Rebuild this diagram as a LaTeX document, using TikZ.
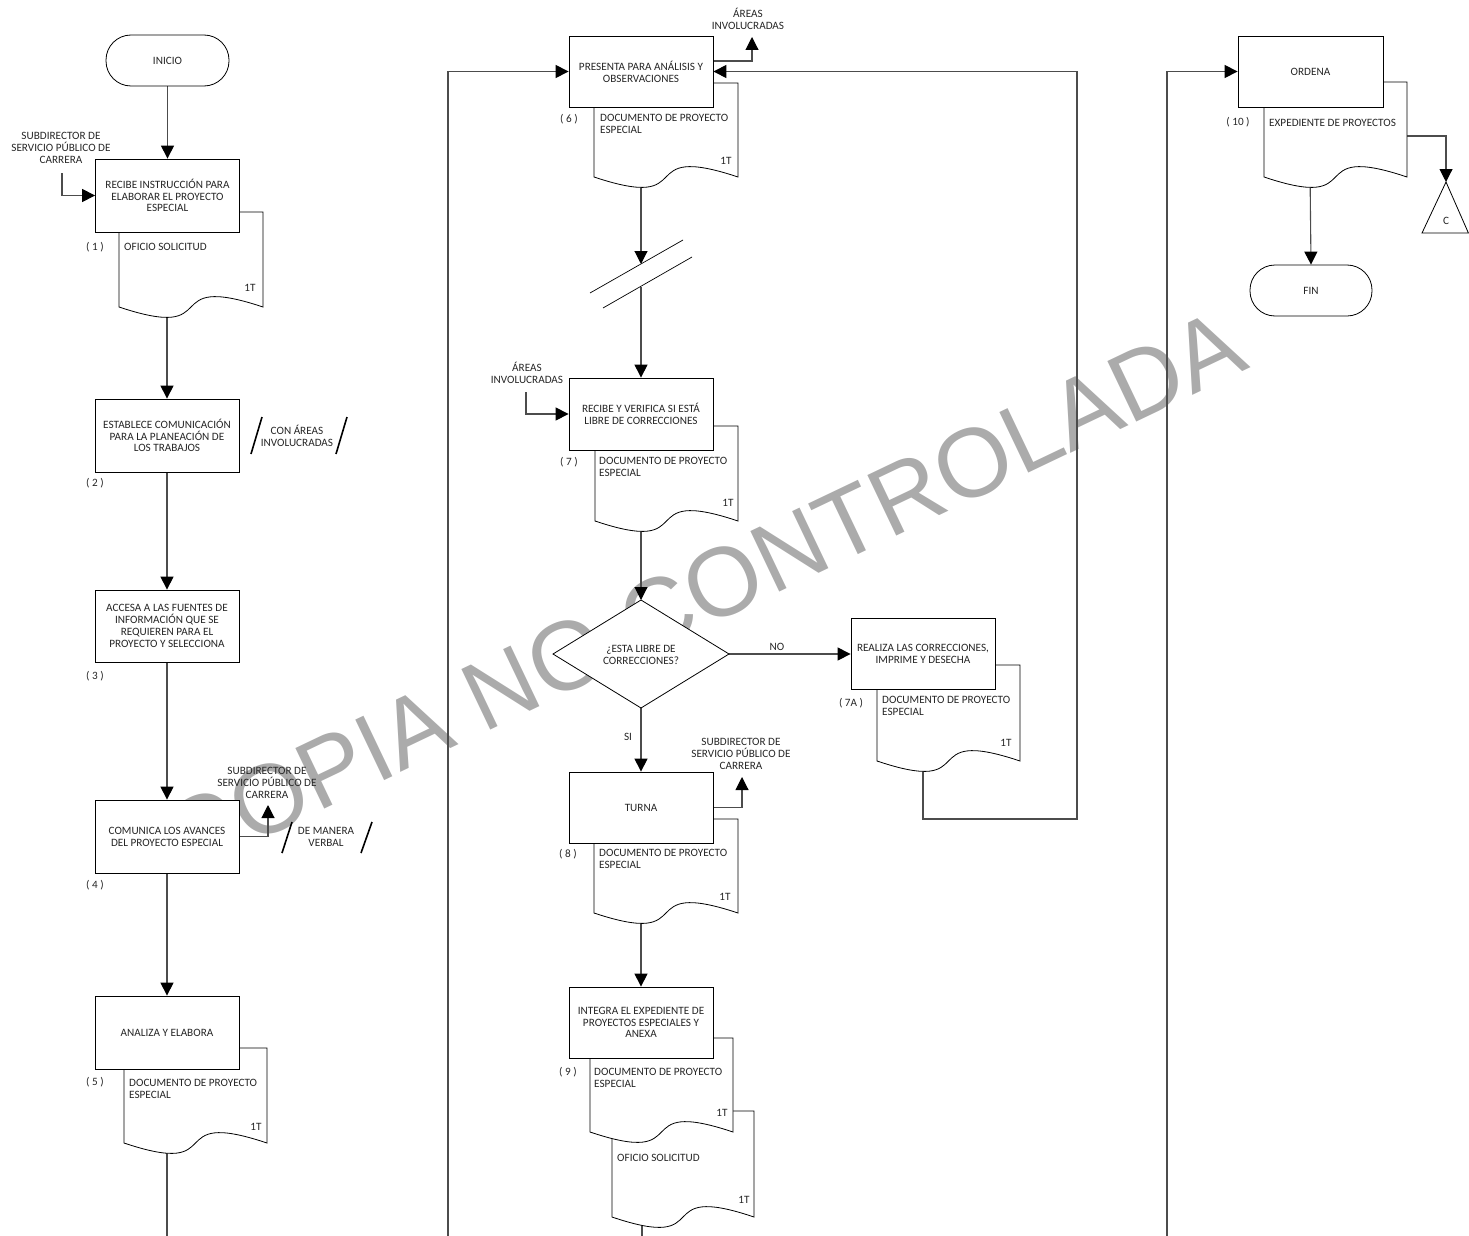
\documentclass[tikz,border=0pt]{standalone}
\usepackage{fontspec}
\setmainfont{Carlito}
\newfontfamily\wmfont{Liberation Sans}
\usetikzlibrary{arrows.meta}
\pgfdeclarelayer{wmlayer}
\pgfdeclarelayer{bglayer}
\pgfsetlayers{wmlayer,bglayer,main}
\newcommand{\docshape}[4]{%
  \draw[docst] (#1,#2) -- (#3,#2) -- (#3,#4)
    .. controls ({#1+0.25*(#3-#1)},{#4-36}) and ({#1+0.75*(#3-#1)},{#4+36}) .. (#1,#4) -- cycle;}
\begin{document}
\begin{tikzpicture}[x=1pt,y=-1pt,
  every node/.style={font=\fontsize{11.2}{11.8}\selectfont, text=black!85},
  box/.style={draw=black, fill=white, line width=0.8pt, minimum width=144pt, minimum height=72pt, inner sep=0pt, align=center},
  term/.style={draw=black, fill=white, line width=0.8pt, rounded corners=25pt, minimum width=123pt, minimum height=51pt, inner sep=0pt},
  docst/.style={draw=black, fill=white, line width=0.8pt},
  conn/.style={draw=black!70, line width=1.1pt},
  arr/.style={conn, -{Triangle[length=13pt,width=13pt,color=black]}},
  slashln/.style={draw=black, line width=1.6pt},
  brk/.style={draw=black, line width=0.7pt},
  lbl/.style={align=center, inner sep=0pt},
  num/.style={inner sep=0pt},
  dtxt/.style={anchor=west, align=left, inner sep=0pt}
]
\useasboundingbox (0,0) rectangle (1469,1236);

% ---------- documents ----------
\docshape{119}{212}{263}{307}
\docshape{124}{1048}{267}{1143}
\docshape{594}{83}{738}{177}
\docshape{595}{426}{738}{521}
\docshape{877}{665}{1020}{761}
\docshape{594}{819}{738}{913}
\docshape{612}{1111}{754}{1217}
\docshape{590}{1038}{733}{1132}
\docshape{1264}{82}{1407}{177}

% ---------- terminals ----------
\node[term] (ini) at (167.5,60.5) {INICIO};
\node[term, minimum width=122pt] (fin) at (1311,290.5) {FIN};

% ---------- process boxes ----------
\node[box, minimum height=73pt] (b1) at (167.5,195.5) {RECIBE INSTRUCCIÓN PARA\\ELABORAR EL PROYECTO\\ESPECIAL};
\node[box, minimum height=73pt] (b2) at (167,435.5) {ESTABLECE COMUNICACIÓN\\PARA LA PLANEACIÓN DE\\LOS TRABAJOS};
\node[box] (b3) at (167,626) {ACCESA A LAS FUENTES DE\\INFORMACIÓN QUE SE\\REQUIEREN PARA EL\\PROYECTO Y SELECCIONA};
\node[box, minimum height=73pt] (b4) at (167,836.5) {COMUNICA LOS AVANCES\\DEL PROYECTO ESPECIAL};
\node[box, minimum height=73pt] (b5) at (167,1032.5) {ANALIZA Y ELABORA};
\node[box, minimum height=71pt] (b6) at (641,71.5) {PRESENTA PARA ANÁLISIS Y\\OBSERVACIONES};
\node[box] (b7) at (641,414) {RECIBE Y VERIFICA SI ESTÁ\\LIBRE DE CORRECCIONES};
\node[box, minimum height=71pt] (b7a) at (923,654) {REALIZA LAS CORRECCIONES,\\IMPRIME Y DESECHA};
\node[box, minimum height=71pt] (b8) at (641,807.5) {TURNA};
\node[box, minimum height=71pt] (b9) at (641,1022.5) {INTEGRA EL EXPEDIENTE DE\\PROYECTOS ESPECIALES Y\\ANEXA};
\node[box, minimum width=145pt, minimum height=71pt] (b10) at (1310.5,71.5) {ORDENA};

% ---------- decision ----------
\coordinate (dt) at (641,600);
\coordinate (dr) at (729,654);
\coordinate (db) at (641,708);
\coordinate (dl) at (553,654);
\draw[docst] (dt) -- (dr) -- (db) -- (dl) -- cycle;
\node[lbl] (dq) at (641,655) {¿ESTA LIBRE DE\\CORRECCIONES?};

% ---------- off-page connector ----------
\coordinate (ct) at (1446,182);
\coordinate (cl) at (1422,233);
\coordinate (cr) at (1468.4,233);
\draw[docst] (ct) -- (cl) -- (cr) -- cycle;
\node (cc) at (1446,221) {C};

% ---------- break symbol ----------
\draw[brk] (590,293) -- (683,240);
\draw[brk] (603,308) -- (692,257);

% ---------- annotations ----------
\draw[slashln] (251,454) -- (262,417);
\draw[slashln] (336,454) -- (347,417);
\node[lbl] (t2) at (297,436) {CON ÁREAS\\INVOLUCRADAS};
\draw[slashln] (282,853) -- (292,822);
\draw[slashln] (361,853) -- (372,822);
\node[lbl] (t4) at (326,837) {DE MANERA\\VERBAL};

% ---------- labels ----------
\node[lbl] (l1) at (61,148) {SUBDIRECTOR DE\\SERVICIO PÚBLICO DE\\CARRERA};
\node[lbl] (l4) at (267,783) {SUBDIRECTOR DE\\SERVICIO PÚBLICO DE\\CARRERA};
\node[lbl] (l6) at (748,18.5) {ÁREAS\\INVOLUCRADAS};
\node[lbl] (l7) at (527,373) {ÁREAS\\INVOLUCRADAS};
\node[lbl] (l8) at (741,754) {SUBDIRECTOR DE\\SERVICIO PÚBLICO DE\\CARRERA};
\node (no) at (777,647) {NO};
\node (si) at (628,737) {SI};

% ---------- step numbers ----------
\node[num] (n1) at (95,247) {( 1 )};
\node[num] (n2) at (95,483) {( 2 )};
\node[num] (n3) at (95,676) {( 3 )};
\node[num] (n4) at (95,885) {( 4 )};
\node[num] (n5) at (95,1082) {( 5 )};
\node[num] (n6) at (569,119) {( 6 )};
\node[num] (n7) at (569,462) {( 7 )};
\node[num] (n7a) at (851,703) {( 7A )};
\node[num] (n8) at (568,854) {( 8 )};
\node[num] (n9) at (568,1072) {( 9 )};
\node[num] (n10) at (1238,122) {( 10 )};

% ---------- document texts ----------
\node[dtxt] (x1) at (124,247) {OFICIO SOLICITUD};
\node[dtxt] (x5) at (129,1089) {DOCUMENTO DE PROYECTO\\ESPECIAL};
\node[dtxt] (x6) at (600,124) {DOCUMENTO DE PROYECTO\\ESPECIAL};
\node[dtxt] (x7) at (599,467) {DOCUMENTO DE PROYECTO\\ESPECIAL};
\node[dtxt] (x7a) at (882,706) {DOCUMENTO DE PROYECTO\\ESPECIAL};
\node[dtxt] (x8) at (599,859) {DOCUMENTO DE PROYECTO\\ESPECIAL};
\node[dtxt] (x9) at (594,1078) {DOCUMENTO DE PROYECTO\\ESPECIAL};
\node[dtxt] (x9b) at (617,1158) {OFICIO SOLICITUD};
\node[dtxt] (x10) at (1269,123) {EXPEDIENTE DE PROYECTOS};

\node (q1) at (250,288) {1T};
\node (q5) at (256,1127) {1T};
\node (q6) at (726,161) {1T};
\node (q7) at (728,503) {1T};
\node (q7a) at (1006,743) {1T};
\node (q8) at (725,897) {1T};
\node (q9) at (722,1113) {1T};
\node (q9b) at (744,1200) {1T};

% ---------- connectors ----------
\begin{pgfonlayer}{bglayer}
\draw[arr] (ini.south) -- (b1.north);
\coordinate (d1) at (167,300);
\draw[arr] (d1) -- (b2.north);
\draw[arr] (b2.south) -- (b3.north);
\draw[arr] (b3.south) -- (b4.north);
\draw[arr] (b4.south) -- (b5.north);
\coordinate (d5) at (167,1135);
\coordinate (e5) at (167,1237);
\draw[conn] (d5) -- (e5);
\coordinate (s1) at (62,173);
\draw[arr] (s1) |- (b1.west);
\coordinate (o4) at (268,805);
\draw[arr] (b4.east) -| (o4);

\coordinate (ll) at (448,1237);
\draw[arr] (ll) |- (b6.west);
\coordinate (d7a) at (923,755);
\coordinate (rc) at (1077,819);
\draw[arr] (d7a) |- (rc) |- (b6.east);
\coordinate (o6s) at (713,61);
\coordinate (o6) at (752,37);
\draw[arr] (o6s) -| (o6);
\coordinate (d6) at (641,170);
\coordinate (k1) at (641,264);
\draw[arr] (d6) -- (k1);
\coordinate (k2) at (641,287);
\draw[arr] (k2) -- (b7.north);
\coordinate (s7) at (526,392);
\draw[arr] (s7) |- (b7.west);
\coordinate (d7) at (641,515);
\draw[arr] (d7) -- (dt);
\draw[arr] (dr) -- (b7a.west);
\draw[arr] (db) -- (b8.north);
\coordinate (o8) at (742,777);
\draw[arr] (b8.east) -| (o8);
\coordinate (d8) at (641,905);
\draw[arr] (d8) -- (b9.north);
\coordinate (d9) at (642,1210);
\coordinate (e9) at (642,1237);
\draw[conn] (d9) -- (e9);

\coordinate (rl) at (1167,1237);
\draw[arr] (rl) |- (b10.west);
\coordinate (d10) at (1310,170);
\draw[arr] (d10) -- (fin.north);
\coordinate (c1) at (1407,136);
\draw[arr] (c1) -| (ct);
\end{pgfonlayer}

% ---------- watermark ----------
\begin{pgfonlayer}{wmlayer}
\node[rotate=25.5, font=\wmfont\fontsize{97.5}{97.5}\selectfont, text=black!33, inner sep=0pt] (wmk) at (704,591) {COPIA NO CONTROLADA};
\end{pgfonlayer}
\end{tikzpicture}
\end{document}
